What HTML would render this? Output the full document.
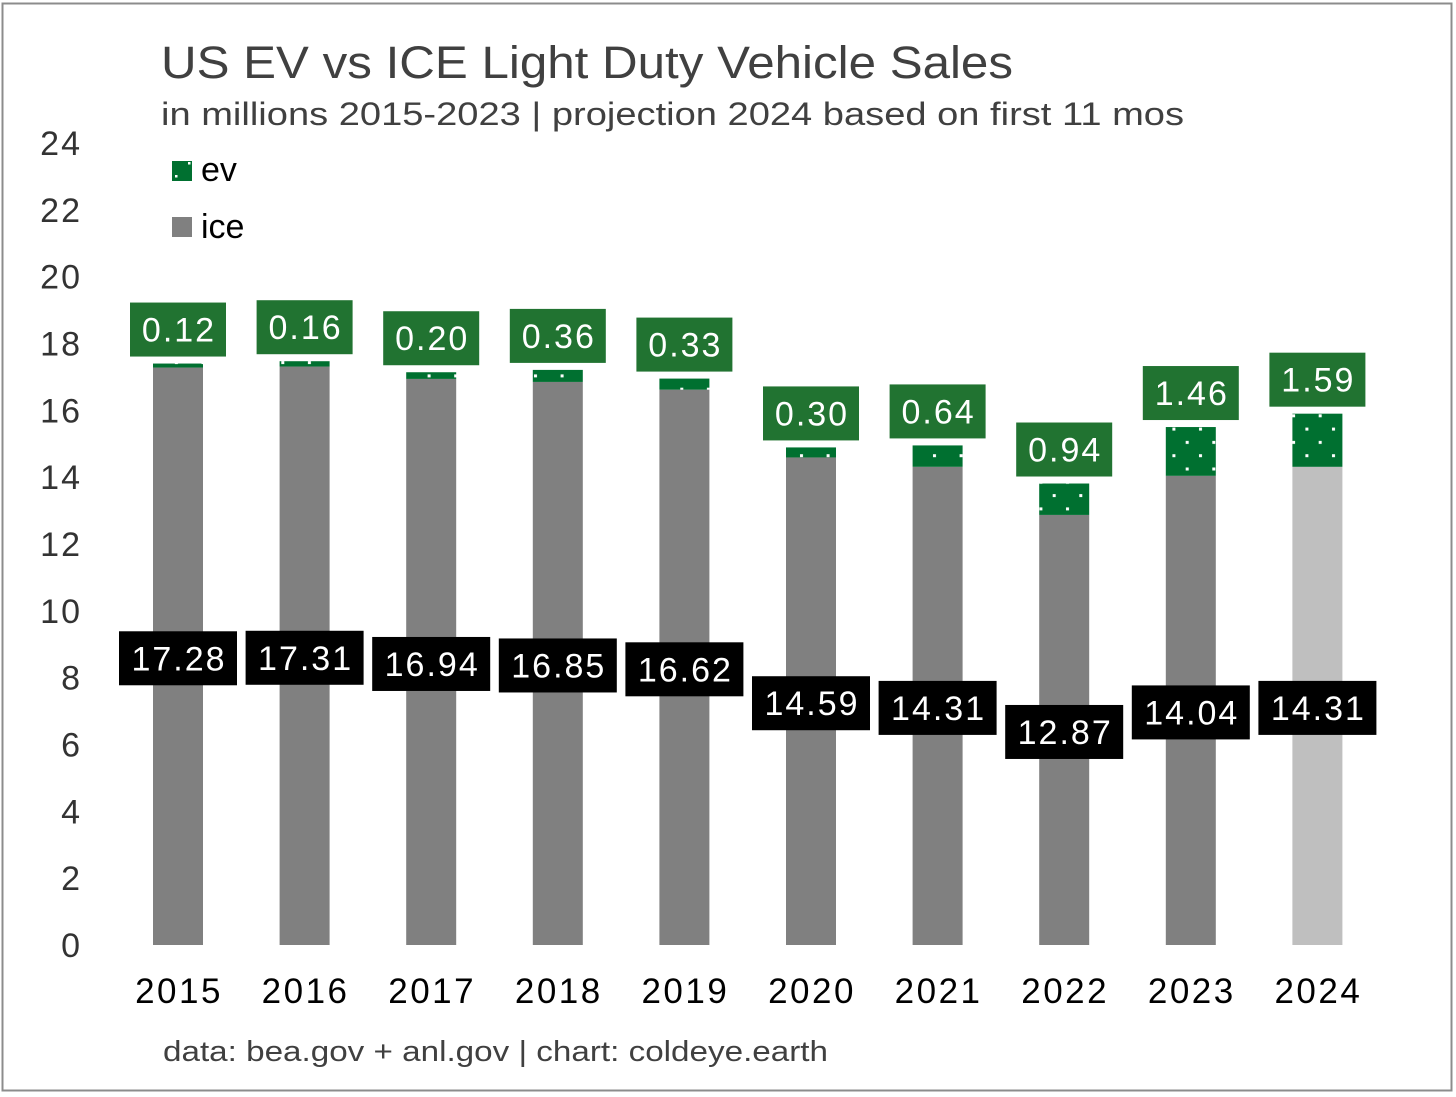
<!DOCTYPE html>
<html><head><meta charset="utf-8"><style>
html,body{margin:0;padding:0;background:#fff;}
svg{display:block;font-family:"Liberation Sans",sans-serif;}
</style></head><body>
<svg id="chart" width="1456" height="1097" viewBox="0 0 1456 1097" xmlns="http://www.w3.org/2000/svg">
<defs>
<pattern id="dots" patternUnits="userSpaceOnUse" width="26.6" height="26.6" x="0" y="0">
<rect width="26.6" height="26.6" fill="#007030"/>
<rect x="2" y="2" width="3" height="3" fill="#fff"/>
<rect x="15.3" y="15.3" width="3" height="3" fill="#fff"/>
</pattern>
</defs>
<rect x="2.5" y="3.5" width="1449" height="1087" fill="#fff" stroke="#8c8c8c" stroke-width="2"/>
<text x="161" y="78" font-size="45" fill="#404040" textLength="852" lengthAdjust="spacingAndGlyphs">US EV vs ICE Light Duty Vehicle Sales</text>
<text x="161" y="125" font-size="32" fill="#404040" textLength="1023" lengthAdjust="spacingAndGlyphs">in millions 2015-2023 | projection 2024 based on first 11 mos</text>
<g>
<rect x="172" y="161" width="20" height="20" fill="#007030"/>
<rect x="188" y="162" width="2.5" height="2.5" fill="#fff"/><rect x="175" y="175" width="2.5" height="2.5" fill="#fff"/>
<text x="201" y="181" font-size="34" fill="#000">ev</text>
<rect x="172" y="217" width="20" height="20" fill="#808080"/>
<text x="201" y="238" font-size="34" fill="#000">ice</text>
</g>
<g id="yaxis"></g>
<g id="bars"></g>
<g id="xaxis"></g>
<text x="163" y="1061" font-size="29" fill="#404040" textLength="665" lengthAdjust="spacingAndGlyphs">data: bea.gov + anl.gov | chart: coldeye.earth</text>
</svg>
<script>
const years = ['2015','2016','2017','2018','2019','2020','2021','2022','2023','2024'];
const ice = [17.28,17.31,16.94,16.85,16.62,14.59,14.31,12.87,14.04,14.31];
const ev = [0.12,0.16,0.20,0.36,0.33,0.30,0.64,0.94,1.46,1.59];
const iceLabels = ['17.28','17.31','16.94','16.85','16.62','14.59','14.31','12.87','14.04','14.31'];
const evLabels = ['0.12','0.16','0.20','0.36','0.33','0.30','0.64','0.94','1.46','1.59'];
const yTicks = [0,2,4,6,8,10,12,14,16,18,20,22,24];
const projectedIndex = 9;

const NS='http://www.w3.org/2000/svg';
const y0=945, y1=143, yMax=24;
const yScale=v=>y0-(v/yMax)*(y0-y1);
const x0=178, step=126.6, bw=50;
const xScale=i=>x0+i*step;
function mk(tag,attrs,parent){const e=document.createElementNS(NS,tag);for(const k in attrs)e.setAttribute(k,attrs[k]);parent.appendChild(e);return e;}

const ya=document.getElementById('yaxis');
yTicks.forEach(t=>{
  const e=mk('text',{x:82,y:yScale(t)+12,'font-size':34,fill:'#333','text-anchor':'end','letter-spacing':2},ya);
  
  
  e.textContent=String(t);
});

const xa=document.getElementById('xaxis');
years.forEach((yr,i)=>{
  const e=mk('text',{x:xScale(i)+1,y:1003,'font-size':35,fill:'#000','text-anchor':'middle','letter-spacing':2.5},xa);
  
  
  e.textContent=yr;
});

const bg=document.getElementById('bars');
years.forEach((yr,i)=>{
  const cx=xScale(i);
  const iceTop=yScale(ice[i]);
  const evTop=yScale(ice[i]+ev[i]);
  const r1=mk('rect',{x:cx-bw/2,y:iceTop,width:bw,height:y0-iceTop,fill:i===projectedIndex?'#bfbfbf':'#808080'},bg);
  
  
  const r2=mk('rect',{x:cx-bw/2,y:evTop,width:bw,height:iceTop-evTop,fill:'url(#dots)'},bg);
  
  
  const ly=evTop-34;
  const lb=mk('rect',{x:cx-48,y:ly-27,width:96,height:54,fill:'#217331'},bg);
  
  
  const lt=mk('text',{x:cx+1,y:ly+12,'font-size':34,fill:'#fff','text-anchor':'middle','letter-spacing':2},bg);
  
  
  lt.textContent=evLabels[i];
  const iy=yScale(ice[i]/2)+2;
  const ib=mk('rect',{x:cx-59,y:iy-27,width:118,height:54,fill:'#000'},bg);
  
  
  const it=mk('text',{x:cx+1,y:iy+12,'font-size':34,fill:'#fff','text-anchor':'middle','letter-spacing':2},bg);
  
  
  it.textContent=iceLabels[i];
});
</script>
</body></html>
